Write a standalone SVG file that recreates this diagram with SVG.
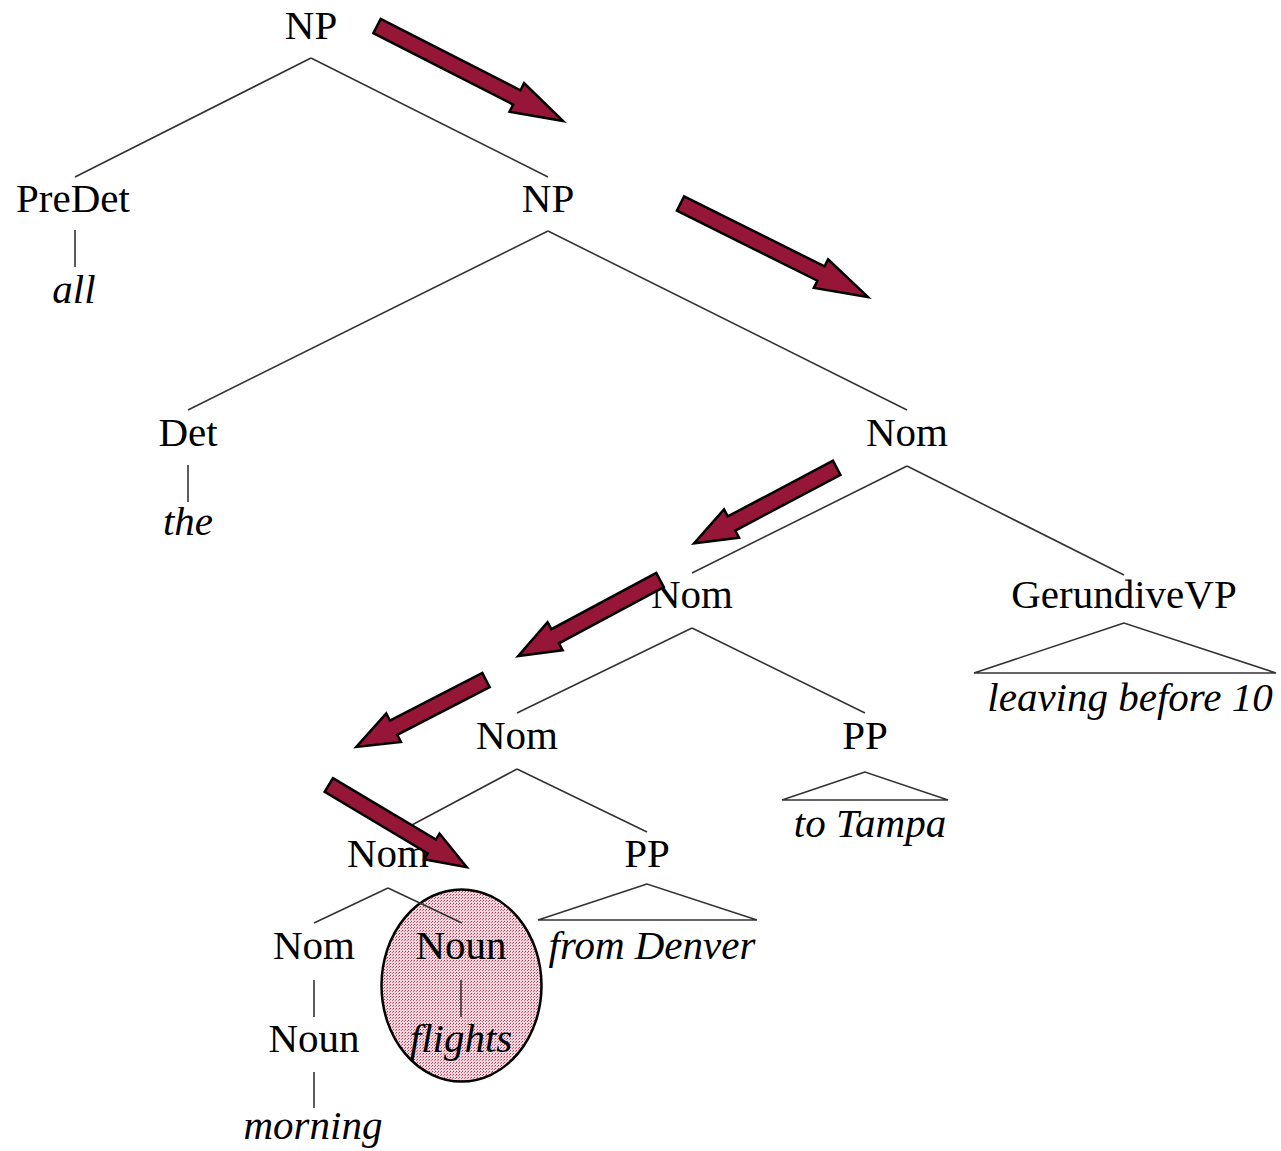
<svg xmlns="http://www.w3.org/2000/svg" width="1281" height="1151" viewBox="0 0 1281 1151">
<style>
.t{font-family:"Liberation Serif","Times New Roman",serif;font-size:41px;fill:#000;text-anchor:middle}
.i{font-style:italic}
.e{stroke:#333;stroke-width:1.6;fill:none}
.a{fill:#961638;stroke:#000;stroke-width:2.5;stroke-linejoin:miter}
</style>
<defs>
<pattern id="dots" width="3" height="3" patternUnits="userSpaceOnUse">
<rect width="3" height="3" fill="#f0d6dc"/>
<rect width="1" height="1" fill="#a83a56"/>
<rect x="2" y="1" width="1" height="1" fill="#c26d82"/>
</pattern>
</defs>
<rect width="1281" height="1151" fill="#fff"/>
<g id="highlight">
<ellipse cx="461.5" cy="985.5" rx="80" ry="96" fill="url(#dots)" stroke="#000" stroke-width="2.5"/>
</g>
<g id="connectors">
<path class="e" d="M311,58 L75,177 M311,58 L548,177"/>
<path class="e" d="M75,230 L75,267"/>
<path class="e" d="M548,231 L188,410 M548,231 L907,410"/>
<path class="e" d="M188,465 L188,502"/>
<path class="e" d="M907,466 L692,573 M907,466 L1124,575"/>
<path class="e" d="M692,628 L517,713 M692,628 L865,713"/>
<path class="e" d="M1124,623 L974,673 L1276,673 Z"/>
<path class="e" d="M865,772 L782,800 L948,800 Z"/>
<path class="e" d="M517,769 L410,826 M517,769 L647,832"/>
<path class="e" d="M647,884 L538,920 L757,920 Z"/>
<path class="e" d="M388,888 L314,923 M388,888 L462,923"/>
<path class="e" d="M314,980 L314,1017"/>
<path class="e" d="M461,980 L461,1017"/>
<path class="e" d="M314,1072 L314,1108"/>
</g>
<g id="nodes">
<g id="n-np1"><text class="t" x="311" y="39">NP</text></g>
<g id="n-predet"><text class="t" x="73" y="212">PreDet</text></g>
<g id="n-all"><text class="t i" x="74" y="303">all</text></g>
<g id="n-np2"><text class="t" x="548" y="212">NP</text></g>
<g id="n-det"><text class="t" x="188" y="446">Det</text></g>
<g id="n-the"><text class="t i" x="188" y="535">the</text></g>
<g id="n-nom1"><text class="t" x="907" y="446">Nom</text></g>
<g id="n-nom2"><text class="t" x="692" y="608">Nom</text></g>
<g id="n-gvp"><text class="t" x="1124" y="608">GerundiveVP</text></g>
<g id="n-leaving"><text class="t i" x="1130" y="711">leaving before 10</text></g>
<g id="n-nom3"><text class="t" x="517" y="749">Nom</text></g>
<g id="n-pp1"><text class="t" x="865" y="749">PP</text></g>
<g id="n-tampa"><text class="t i" x="870" y="837">to Tampa</text></g>
<g id="n-nom4"><text class="t" x="388" y="867">Nom</text></g>
<g id="n-pp2"><text class="t" x="647" y="867">PP</text></g>
<g id="n-denver"><text class="t i" x="652" y="959">from Denver</text></g>
<g id="n-nom5"><text class="t" x="314" y="959">Nom</text></g>
<g id="n-noun1"><text class="t" x="461" y="959">Noun</text></g>
<g id="n-noun2"><text class="t" x="314" y="1052">Noun</text></g>
<g id="n-flights"><text class="t i" x="461" y="1052">flights</text></g>
<g id="n-morning"><text class="t i" x="313" y="1139">morning</text></g>
</g>
<g id="arrows">
<polygon class="a" transform="translate(377,26) rotate(27.05)" points="0,-8 157,-8 157,-16 209,0 157,16 157,8 0,8"/>
<polygon class="a" transform="translate(680.5,203.5) rotate(26.5)" points="0,-8 157,-8 157,-16 209.5,0 157,16 157,8 0,8"/>
<polygon class="a" transform="translate(836.7,467.8) rotate(152.1)" points="0,-8 119,-8 119,-16 161.4,0 119,16 119,8 0,8"/>
<polygon class="a" transform="translate(660,580) rotate(151.8)" points="0,-8 119,-8 119,-16 161,0 119,16 119,8 0,8"/>
<polygon class="a" transform="translate(486,680) rotate(152.7)" points="0,-8 104,-8 104,-16 146,0 104,16 104,8 0,8"/>
<polygon class="a" transform="translate(328.8,785) rotate(30.8)" points="0,-8 120,-8 120,-15 160.6,0 120,15 120,8 0,8"/>
</g>
</svg>
